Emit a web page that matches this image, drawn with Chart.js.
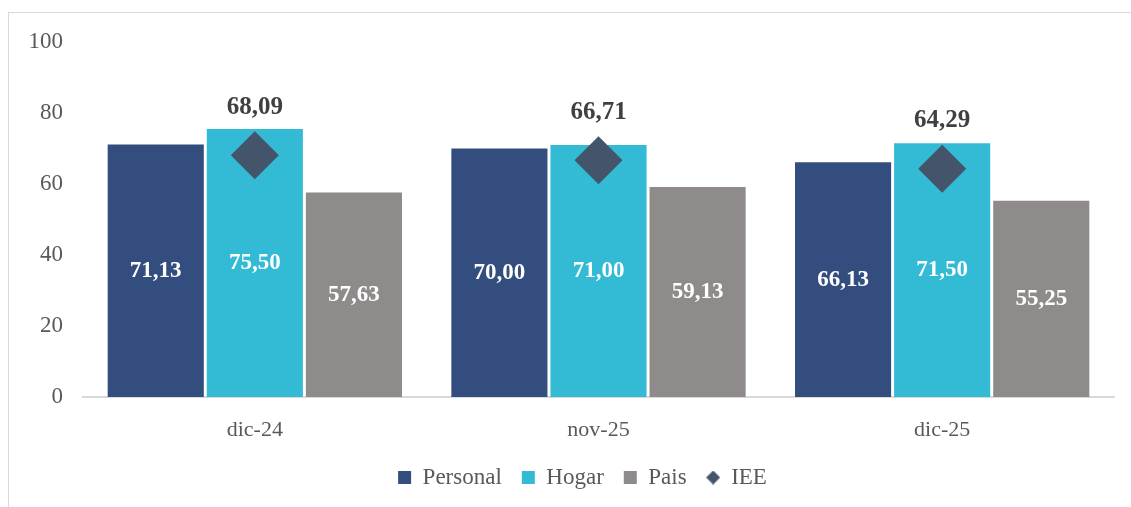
<!DOCTYPE html>
<html>
<head>
<meta charset="utf-8">
<script src="https://cdn.jsdelivr.net/npm/chart.js@4/dist/chart.umd.min.js"></script>
<style>
  html, body { margin: 0; padding: 0; background: #fff; overflow: hidden; width: 1131px; height: 507px; }
  #frame { position: absolute; left: 8px; top: 12px; width: 1200px; height: 600px; border: 1px solid #d9d9d9; }
  #ieeChart { position: absolute; left: 9px; top: 14px; }
</style>
</head>
<body>
<div id="frame"></div>
<canvas id="ieeChart" width="1129" height="493"></canvas>
<script>
// datos del grafico
const categories = ['dic-24', 'nov-25', 'dic-25'];
const personal = [71.13, 70.00, 66.13];
const hogar = [75.50, 71.00, 71.50];
const pais = [57.63, 59.13, 55.25];
const iee = [68.09, 66.71, 64.29];
const yTicks = [0, 20, 40, 60, 80, 100];

const FONT = "'Liberation Serif', 'Times New Roman', serif";
const fmt = v => v.toFixed(2).replace('.', ',');

// small diamond for the legend
const legendDiamond = document.createElement('canvas');
legendDiamond.width = 14; legendDiamond.height = 14;
(function () {
  const c = legendDiamond.getContext('2d');
  c.fillStyle = '#44546a';
  c.beginPath();
  c.moveTo(7, 0); c.lineTo(14, 7); c.lineTo(7, 14); c.lineTo(0, 7);
  c.closePath(); c.fill();
})();

// value labels (no datalabels plugin available offline)
const valueLabels = {
  id: 'valueLabels',
  afterDatasetsDraw(chart) {
    const ctx = chart.ctx;
    ctx.save();
    ctx.textAlign = 'center';
    ctx.textBaseline = 'middle';
    chart.data.datasets.forEach((ds, i) => {
      const meta = chart.getDatasetMeta(i);
      meta.data.forEach((el, j) => {
        const v = ds.data[j];
        if (ds.type === 'line') {
          ctx.fillStyle = '#404040';
          ctx.font = 'bold 25px ' + FONT;
          ctx.fillText(fmt(v), el.x, el.y - 48);
        } else {
          ctx.fillStyle = '#ffffff';
          ctx.font = 'bold 23px ' + FONT;
          ctx.fillText(fmt(v), el.x, (el.y + el.base) / 2);
        }
      });
    });
    ctx.restore();
  }
};

// nudge the legend a bit to the right, like the original
const legendShift = {
  id: 'legendShift',
  afterLayout(chart) {
    const lg = chart.legend;
    if (lg) { lg.left += 18; lg.right += 18; }
  }
};

const ctx = document.getElementById('ieeChart').getContext('2d');
const ieeChart = new Chart(ctx, {
  type: 'bar',
  data: {
    labels: categories,
    datasets: [
      { label: 'Personal', data: personal, backgroundColor: '#324d7e', order: 1 },
      { label: 'Hogar', data: hogar, backgroundColor: '#33bad4', order: 1 },
      { label: 'Pais', data: pais, backgroundColor: '#8e8b8a', order: 1 },
      {
        label: 'IEE', type: 'line', data: iee, showLine: false, order: 0,
        pointStyle: 'rectRot', pointRadius: 24, pointHoverRadius: 24,
        pointBackgroundColor: '#44546a', pointBorderWidth: 0,
        backgroundColor: '#44546a', borderColor: '#44546a'
      }
    ]
  },
  options: {
    responsive: false,
    animation: false,
    datasets: {
      bar: { categoryPercentage: 0.865, barPercentage: 0.97, borderWidth: 0 }
    },
    layout: { padding: { left: 0, right: 18, top: 28, bottom: 8 } },
    plugins: {
      tooltip: { enabled: false },
      legend: {
        position: 'bottom',
        labels: {
          font: { family: FONT, size: 23 },
          color: '#595959',
          usePointStyle: true,
          boxWidth: 13,
          boxHeight: 13,
          padding: 20,
          sort: (a, b) => a.datasetIndex - b.datasetIndex,
          generateLabels(chart) {
            return chart.data.datasets.map((ds, i) => ({
              text: ds.label,
              fillStyle: ds.type === 'line' ? ds.pointBackgroundColor : ds.backgroundColor,
              strokeStyle: 'transparent',
              lineWidth: 0,
              pointStyle: ds.type === 'line' ? legendDiamond : 'rect',
              fontColor: '#595959',
              datasetIndex: i,
              hidden: false
            }));
          }
        }
      }
    },
    scales: {
      x: {
        afterFit(scale) { scale.height = 49; scale.paddingLeft = 0; scale.paddingRight = 0; },
        grid: { display: false, drawTicks: false },
        border: { display: true, color: '#d9d9d9', width: 2 },
        ticks: { font: { family: FONT, size: 22 }, color: '#595959', padding: 20, autoSkip: false }
      },
      y: {
        min: 0,
        max: 100,
        afterBuildTicks(scale) { scale.ticks = yTicks.map(v => ({ value: v })); },
        afterFit(scale) { scale.width = 74; scale.paddingTop = 10; scale.paddingBottom = 10; },
        grid: { display: false, drawTicks: false },
        border: { display: false },
        ticks: { font: { family: FONT, size: 23 }, color: '#595959', padding: 20 }
      }
    }
  },
  plugins: [valueLabels, legendShift]
});
</script>
</body>
</html>
